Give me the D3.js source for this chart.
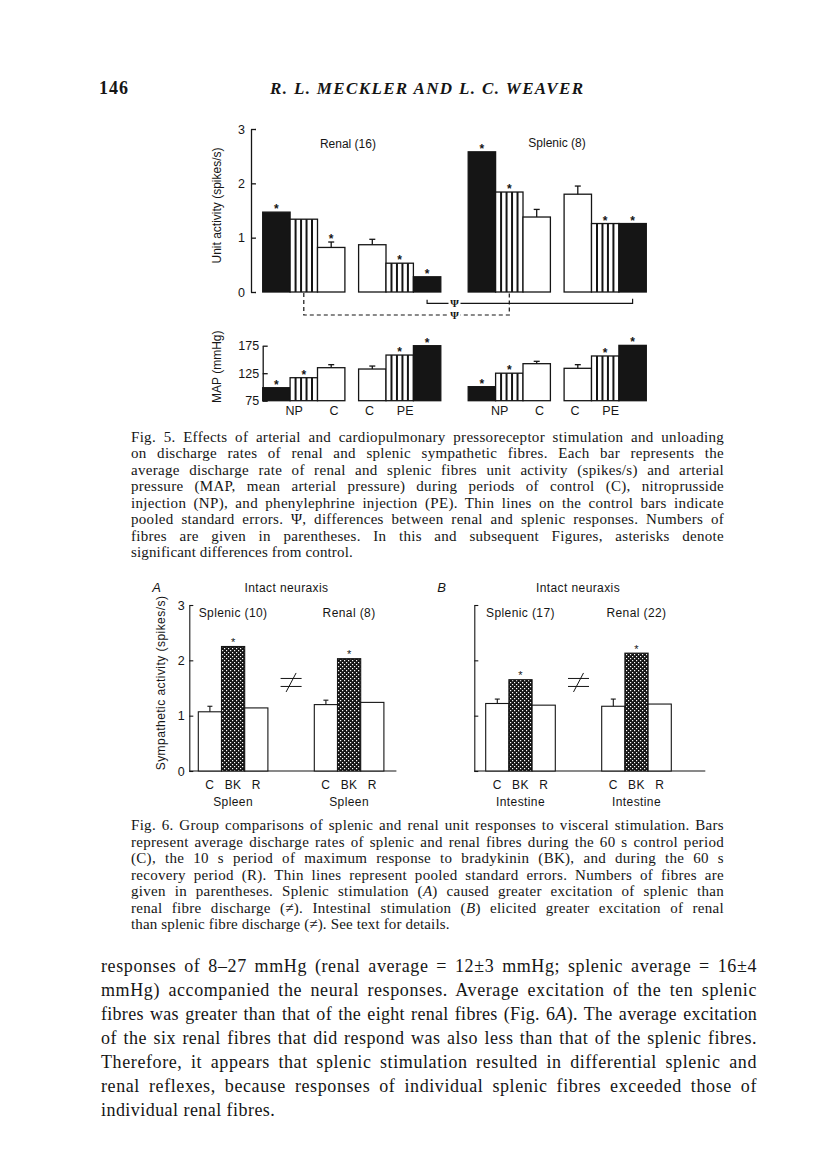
<!DOCTYPE html>
<html>
<head>
<meta charset="utf-8">
<script src="https://cdn.jsdelivr.net/npm/d3@7"></script>
<style>
  body { margin: 0; background: #fff; }
  text { fill: #151515; }
  .serif { font-family: "Liberation Serif", "Times New Roman", serif; }
  .sans { font-family: "Liberation Sans", Arial, sans-serif; }
</style>
</head>
<body>
<div id="page"></div>
<script>
//---FIG 5 DATA (bar order per panel: NP peak, NP, C | C, PE, PE peak)
var fig5Fills = ["black", "stripe", "white", "white", "stripe", "black"];
var renalUnit = [1.47, 1.34, 0.82, 0.87, 0.53, 0.28];
var renalUnitErr = [null, null, 0.92, 0.97, null, null];
var renalUnitStar = [1, 0, 1, 0, 1, 1];
var splenicUnit = [2.58, 1.84, 1.38, 1.80, 1.26, 1.26];
var splenicUnitErr = [null, null, 1.52, 1.95, null, null];
var splenicUnitStar = [1, 1, 0, 0, 1, 1];
var renalMAP = [98.6, 116.8, 135, 132.6, 158, 175];
var renalMAPErr = [null, null, 140.5, 138, null, null];
var splenicMAP = [100.5, 125, 142.3, 133.9, 156.3, 175.6];
var splenicMAPErr = [null, null, 146.6, 140.5, null, null];
var mapStar = [1, 1, 0, 0, 1, 1];
var mapLabels = ["NP", "C", "C", "PE"];
var mapLabelSlots = [1.15, 2.6, 3.9, 5.2];
var unitTicks = [0, 1, 2, 3];
var mapTicks = [75, 125, 175];

//---FIG 6 DATA (C, BK, R)
var fig6Cats = ["C", "BK", "R"];
var splenicA = [1.07, 2.25, 1.14];
var splenicAErr = 1.17;
var renalA = [1.20, 2.03, 1.24];
var renalAErr = 1.28;
var splenicB = [1.22, 1.65, 1.19];
var splenicBErr = 1.30;
var renalB = [1.17, 2.13, 1.21];
var renalBErr = 1.30;
var fig6Ticks = [0, 1, 2, 3];

//---TEXT
var fig5Caption = [
  "Fig. 5. Effects of arterial and cardiopulmonary pressoreceptor stimulation and unloading",
  "on discharge rates of renal and splenic sympathetic fibres. Each bar represents the",
  "average discharge rate of renal and splenic fibres unit activity (spikes/s) and arterial",
  "pressure (MAP, mean arterial pressure) during periods of control (C), nitroprusside",
  "injection (NP), and phenylephrine injection (PE). Thin lines on the control bars indicate",
  "pooled standard errors. \u03A8, differences between renal and splenic responses. Numbers of",
  "fibres are given in parentheses. In this and subsequent Figures, asterisks denote",
  "significant differences from control."
];
var fig6Caption = [
  "Fig. 6. Group comparisons of splenic and renal unit responses to visceral stimulation. Bars",
  "represent average discharge rates of splenic and renal fibres during the 60 s control period",
  "(C), the 10 s period of maximum response to bradykinin (BK), and during the 60 s",
  "recovery period (R). Thin lines represent pooled standard errors. Numbers of fibres are",
  "given in parentheses. Splenic stimulation (_A_) caused greater excitation of splenic than",
  "renal fibre discharge (\u2260). Intestinal stimulation (_B_) elicited greater excitation of renal",
  "than splenic fibre discharge (\u2260). See text for details."
];
var bodyText = [
  "responses of 8\u201327 mmHg (renal average = 12\u00B13 mmHg; splenic average = 16\u00B14",
  "mmHg) accompanied the neural responses. Average excitation of the ten splenic",
  "fibres was greater than that of the eight renal fibres (Fig. 6_A_). The average excitation",
  "of the six renal fibres that did respond was also less than that of the splenic fibres.",
  "Therefore, it appears that splenic stimulation resulted in differential splenic and",
  "renal reflexes, because responses of individual splenic fibres exceeded those of",
  "individual renal fibres."
];

var ink = "#151515";
var svg = d3.select("#page").append("svg")
  .attr("width", 816)
  .attr("height", 1173);

svg.append("rect").attr("width", 816).attr("height", 1173).attr("fill", "#fff");

var defs = svg.append("defs");
var pat = defs.append("pattern").attr("id", "hatch")
  .attr("patternUnits", "userSpaceOnUse").attr("width", 4).attr("height", 4);
pat.append("rect").attr("width", 4).attr("height", 4).attr("fill", ink);
pat.append("rect").attr("x", 0).attr("y", 0).attr("width", 1.2).attr("height", 1.2).attr("fill", "#fff");
pat.append("rect").attr("x", 2).attr("y", 2).attr("width", 1.2).attr("height", 1.2).attr("fill", "#fff");

//---HEADER
svg.append("text").attr("class", "serif").attr("x", 99).attr("y", 94)
  .attr("font-size", 18).attr("font-weight", "bold")
  .attr("textLength", 29).text("146");
svg.append("text").attr("class", "serif").attr("x", 270).attr("y", 94)
  .attr("font-size", 17).attr("font-style", "italic").attr("font-weight", "bold")
  .attr("textLength", 313).attr("lengthAdjust", "spacing")
  .text("R. L. MECKLER AND L. C. WEAVER");

//---FIG 5
var x5 = d3.scaleLinear().domain([0, 14]).range([262.7, 646.3]);
var yU = d3.scaleLinear().domain([0, 3]).range([292, 129]);
var yM = d3.scaleLinear().domain([75, 175]).range([400.7, 345.7]);

function slotOf(panel, i) { return panel + (i < 3 ? i : i + 0.5); }

function drawBars5(g, vals, errs, stars, panel, y, base) {
  vals.forEach(function(v, i) {
    var s = slotOf(panel, i);
    var x0 = x5(s), x1 = x5(s + 1), cx = (x0 + x1) / 2;
    var kind = fig5Fills[i];
    g.append("rect").attr("x", x0).attr("y", y(v))
      .attr("width", x1 - x0).attr("height", y(base) - y(v))
      .attr("fill", kind == "black" ? ink : "#fff")
      .attr("stroke", ink).attr("stroke-width", 1.3);
    if (kind == "stripe") {
      d3.range(1, 5).forEach(function(k) {
        g.append("line").attr("x1", x5(s + k / 5)).attr("x2", x5(s + k / 5))
          .attr("y1", y(v)).attr("y2", y(base))
          .attr("stroke", ink).attr("stroke-width", 2);
      });
    }
    var top = v;
    if (errs[i] != null) {
      top = errs[i];
      g.append("line").attr("x1", cx).attr("x2", cx).attr("y1", y(v)).attr("y2", y(errs[i]))
        .attr("stroke", ink).attr("stroke-width", 1.3);
      g.append("line").attr("x1", cx - 3).attr("x2", cx + 3).attr("y1", y(errs[i])).attr("y2", y(errs[i]))
        .attr("stroke", ink).attr("stroke-width", 1.3);
    }
    if (stars[i]) {
      g.append("text").attr("class", "sans").attr("x", cx).attr("y", y(top) + 1)
        .attr("text-anchor", "middle").attr("font-size", 12).attr("font-weight", "bold").text("*");
    }
  });
}

var f5 = svg.append("g");

// unit activity axis
var axU = f5.append("g").attr("transform", "translate(" + (x5(0) - 11.7) + ",0)")
  .call(d3.axisLeft(yU).tickValues(unitTicks).tickFormat(d3.format("d"))
    .tickSizeInner(-5).tickSizeOuter(0).tickPadding(6));
axU.selectAll("path,line").attr("stroke", ink).attr("stroke-width", 1.3);
axU.selectAll("text").attr("class", "sans").attr("font-size", 12.5).attr("fill", ink);

f5.append("text").attr("class", "sans").attr("font-size", 12)
  .attr("transform", "translate(220.5,205.5) rotate(-90)").attr("text-anchor", "middle")
  .text("Unit activity (spikes/s)");

drawBars5(f5, renalUnit, renalUnitErr, renalUnitStar, 0, yU, 0);
drawBars5(f5, splenicUnit, splenicUnitErr, splenicUnitStar, 7.5, yU, 0);

f5.append("text").attr("class", "sans").attr("font-size", 12).attr("text-anchor", "middle")
  .attr("x", x5(3.11)).attr("y", 148).text("Renal (16)");
f5.append("text").attr("class", "sans").attr("font-size", 12).attr("text-anchor", "middle")
  .attr("x", x5(10.74)).attr("y", 147).text("Splenic (8)");

// psi brackets
function cen(panel, i) { return x5(slotOf(panel, i) + 0.5); }
var psiX = x5(7);
var ySolid = 303.3, yDash = 315;
f5.append("path")
  .attr("d", "M" + cen(0, 5) + "," + (ySolid - 3.5) + "V" + ySolid + "H" + cen(7.5, 5) + "V" + (ySolid - 4.5))
  .attr("fill", "none").attr("stroke", ink).attr("stroke-width", 1.2);
f5.append("path")
  .attr("d", "M" + cen(0, 1) + "," + (yU(0) + 1) + "V" + yDash + "H" + cen(7.5, 1) + "V" + (yU(0) + 1))
  .attr("fill", "none").attr("stroke", ink).attr("stroke-width", 1.2).attr("stroke-dasharray", "4,3");
[ySolid, yDash].forEach(function(yy) {
  f5.append("rect").attr("x", psiX - 6).attr("y", yy - 4.5).attr("width", 12).attr("height", 9).attr("fill", "#fff");
  f5.append("text").attr("class", "serif").attr("font-size", 11).attr("font-weight", "bold")
    .attr("text-anchor", "middle").attr("x", psiX).attr("y", yy + 4).text("\u03A8");
});

// MAP axis
var axM = f5.append("g").attr("transform", "translate(" + x5(0) + ",0)")
  .call(d3.axisLeft(yM).tickValues(mapTicks).tickSizeInner(-5).tickSizeOuter(0).tickPadding(3.5));
axM.selectAll("path,line").attr("stroke", ink).attr("stroke-width", 1.3);
axM.selectAll("text").attr("class", "sans").attr("font-size", 12.5).attr("fill", ink);

f5.append("text").attr("class", "sans").attr("font-size", 12)
  .attr("transform", "translate(221,366.7) rotate(-90)").attr("text-anchor", "middle")
  .text("MAP (mmHg)");

drawBars5(f5, renalMAP, renalMAPErr, mapStar, 0, yM, 75);
drawBars5(f5, splenicMAP, splenicMAPErr, mapStar, 7.5, yM, 75);

[0, 7.5].forEach(function(panel) {
  mapLabels.forEach(function(lab, k) {
    f5.append("text").attr("class", "sans").attr("font-size", 12.5).attr("text-anchor", "middle")
      .attr("x", x5(panel + mapLabelSlots[k])).attr("y", 415).text(lab);
  });
});

//---FIG 6
var y6 = d3.scaleLinear().domain([0, 3]).range([771, 605]);
var panels6 = [
  { x: d3.scaleLinear().domain([0, 8]).range([198.3, 383.9]), axisGap: 9, endGap: 12.5,
    letter: "A", title: 3.8, ticks: true,
    groups: [{ name: "Splenic (10)", vals: splenicA, err: splenicAErr, site: "Spleen" },
             { name: "Renal (8)", vals: renalA, err: renalAErr, site: "Spleen" }] },
  { x: d3.scaleLinear().domain([0, 8]).range([485.7, 671.3]), axisGap: 11.4, endGap: 34,
    letter: "B", title: 3.98, ticks: false,
    groups: [{ name: "Splenic (17)", vals: splenicB, err: splenicBErr, site: "Intestine" },
             { name: "Renal (22)", vals: renalB, err: renalBErr, site: "Intestine" }] }
];

var f6 = svg.append("g");
panels6.forEach(function(p) {
  var g = f6.append("g");
  var x = p.x;
  var ax0 = x(0) - p.axisGap;
  g.append("text").attr("class", "sans").attr("font-size", 13).attr("font-style", "italic")
    .attr("x", ax0 - 37).attr("y", 592).text(p.letter);
  g.append("text").attr("class", "sans").attr("font-size", 12).attr("letter-spacing", 0.4)
    .attr("text-anchor", "middle").attr("x", x(p.title)).attr("y", 592).text("Intact neuraxis");

  var ax = g.append("g").attr("transform", "translate(" + ax0 + ",0)")
    .call(d3.axisLeft(y6).tickValues(fig6Ticks).tickSizeInner(-4).tickSizeOuter(0).tickPadding(4.5)
      .tickFormat(p.ticks ? d3.format("d") : function() { return ""; }));
  ax.selectAll("path,line").attr("stroke", ink).attr("stroke-width", 1.1);
  ax.selectAll("text").attr("class", "sans").attr("font-size", 12.5).attr("fill", ink);
  g.append("line").attr("x1", ax0).attr("x2", x(8) + p.endGap)
    .attr("y1", y6(0)).attr("y2", y6(0)).attr("stroke", ink).attr("stroke-width", 1.1);

  p.groups.forEach(function(grp, gi) {
    var s0 = gi * 5;
    g.append("text").attr("class", "sans").attr("font-size", 12).attr("letter-spacing", 0.4)
      .attr("text-anchor", "middle").attr("x", x(s0 + 1.5)).attr("y", 616.5).text(grp.name);
    grp.vals.forEach(function(v, i) {
      var x0 = x(s0 + i), x1 = x(s0 + i + 1), cx = (x0 + x1) / 2;
      g.append("rect").attr("x", x0).attr("y", y6(v)).attr("width", x1 - x0)
        .attr("height", y6(0) - y6(v))
        .attr("fill", fig6Cats[i] == "BK" ? "url(#hatch)" : "#fff")
        .attr("stroke", ink).attr("stroke-width", 1.1);
      if (fig6Cats[i] == "C") {
        g.append("line").attr("x1", cx).attr("x2", cx).attr("y1", y6(v)).attr("y2", y6(grp.err))
          .attr("stroke", ink).attr("stroke-width", 1.1);
        g.append("line").attr("x1", cx - 2.5).attr("x2", cx + 2.5).attr("y1", y6(grp.err)).attr("y2", y6(grp.err))
          .attr("stroke", ink).attr("stroke-width", 1.1);
      }
      if (fig6Cats[i] == "BK") {
        g.append("text").attr("class", "sans").attr("font-size", 11).attr("text-anchor", "middle")
          .attr("x", cx).attr("y", y6(v) - 0.5).text("*");
      }
      g.append("text").attr("class", "sans").attr("font-size", 12).attr("letter-spacing", 0.4)
        .attr("text-anchor", "middle").attr("x", cx).attr("y", 788.5).text(fig6Cats[i]);
    });
    g.append("text").attr("class", "sans").attr("font-size", 12).attr("letter-spacing", 0.4)
      .attr("text-anchor", "middle").attr("x", x(s0 + 1.5)).attr("y", 806).text(grp.site);
  });

  // not-equal mark between the two groups
  var cx = x(4), cy = y6(1.6);
  g.append("path")
    .attr("d", "M" + (cx - 10.5) + "," + (cy - 4) + "H" + (cx + 10.5) +
      "M" + (cx - 10.5) + "," + (cy + 4) + "H" + (cx + 10.5) +
      "M" + (cx - 5) + "," + (cy + 9.5) + "L" + (cx + 5) + "," + (cy - 9.5))
    .attr("fill", "none").attr("stroke", ink).attr("stroke-width", 1);
});

f6.append("text").attr("class", "sans").attr("font-size", 12).attr("letter-spacing", 0.45)
  .attr("transform", "translate(165,683) rotate(-90)").attr("text-anchor", "middle")
  .text("Sympathetic activity (spikes/s)");

//---TEXT BLOCKS (justified lines: some letter spacing first, rest into word gaps)
function textBlock(lines, x, y0, lh, width, size, opt) {
  var g = svg.append("g").attr("class", "serif").attr("font-size", size);
  lines.forEach(function(line, li) {
    var t = g.append("text").attr("x", x).attr("y", y0 + li * lh);
    line.split("_").forEach(function(part, k) {
      var ts = t.append("tspan").text(part);
      if (k % 2 == 1) ts.attr("font-style", "italic");
    });
    if (li == lines.length - 1) {
      t.attr("letter-spacing", opt.lsLast);
      return;
    }
    var n0 = t.node().getComputedTextLength();
    var chars = line.replace(/_/g, "").length;
    var spaces = (line.match(/ /g) || []).length;
    var ls = (width - n0 - spaces * opt.ws) / chars;
    ls = Math.max(opt.lsMin, Math.min(opt.lsMax, ls));
    t.attr("letter-spacing", ls);
    t.attr("word-spacing", (width - n0 - ls * chars) / spaces);
  });
}

var capOpt = { ws: 1.2, lsMin: -0.35, lsMax: 0.3, lsLast: 0.15 };
textBlock(fig5Caption, 131, 442, 16.43, 593, 15, capOpt);
textBlock(fig6Caption, 131, 830, 16.5, 593, 15, capOpt);
textBlock(bodyText, 101, 972, 24, 656, 18, { ws: 1.5, lsMin: -0.4, lsMax: 0.6, lsLast: 0.45 });
</script>
</body>
</html>
